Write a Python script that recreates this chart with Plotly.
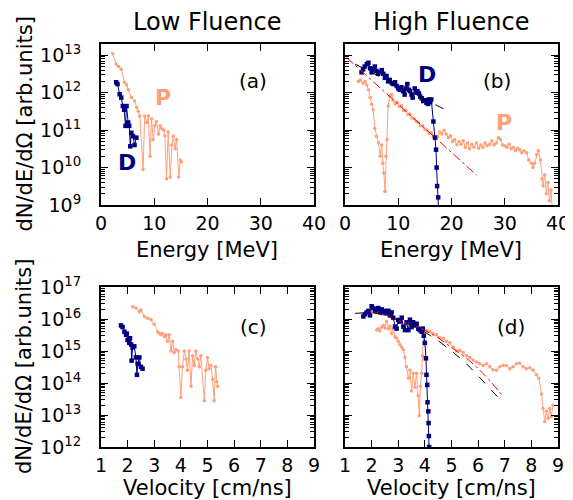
"""Proton and deuteron spectra, low and high fluence, vs energy and velocity."""

import plotly.graph_objects as go

FONT = "DejaVu Sans"
P_COLOR = "#FFA07A"
D_COLOR = "#000080"

# (a) low fluence, energy spectra
a_p_energy = [2.2, 2.85, 3.3, 3.8, 4.4, 4.8, 5.1, 5.7, 6.3, 6.7, 7.0, 7.3, 7.9,
              8.2, 8.6, 8.9, 9.2, 9.5, 9.8, 10.1, 10.4, 10.8, 11.1, 11.4, 11.8,
              12.0, 12.3, 12.6, 13.0, 13.3, 13.6, 13.9, 14.2, 14.6, 14.9, 15.1]
a_p_counts = [1.1e13, 5.8e12, 5.0e12, 4.2e12, 1.9e12, 1.6e12, 1.2e12, 7.4e11,
              6.0e11, 4.0e11, 3.2e11, 2.4e11, 8.9e9, 2.4e11, 1.6e11, 2.4e11,
              2.0e10, 2.0e11, 5.6e10, 1.3e11, 1.7e11, 7.9e10, 1.3e11, 1.1e11,
              1.0e11, 7.1e10, 5.0e9, 8.9e10, 5.6e9, 4.0e10, 6.9e10, 3.2e10,
              5.6e10, 5.6e9, 1.6e10, 1.4e10]
a_d_energy = [2.85, 3.1, 3.5, 3.8, 4.1, 4.35, 4.6, 4.8, 5.1, 5.3, 5.5, 5.7,
              6.0, 6.3, 6.65]
a_d_counts = [1.9e12, 1.7e12, 9.1e11, 7.4e11, 4.4e11, 3.5e11, 1.3e11, 4.4e11,
              1.6e11, 1.3e11, 3.7e10, 8.5e10, 6.9e10, 4.0e10, 6.3e10]

# (b) high fluence, energy spectra
b_p_energy = [2.5, 2.9, 3.4, 3.8, 4.1, 4.4, 4.7, 5.0, 5.3, 5.6, 5.9, 6.3, 6.6,
              6.9, 7.1, 7.3, 7.5, 7.7, 7.9, 8.1, 8.4, 8.75, 9.0, 9.4, 9.8,
              10.2, 10.6, 11.0, 11.4, 11.8, 12.2, 12.6, 13.0, 13.4, 13.8, 14.2,
              14.6, 15.0, 15.4, 15.8, 16.2, 16.6, 17.0, 17.4, 17.8, 18.2, 18.6,
              19.0, 19.4, 19.8, 20.2, 20.6, 21.0, 21.4, 21.8, 22.2, 22.6, 23.0,
              23.4, 23.8, 24.2, 24.7, 25.1, 25.5, 25.9, 26.3, 26.7, 27.2, 27.6,
              28.0, 28.4, 28.8, 29.2, 29.6, 30.0, 30.4, 30.8, 31.2, 31.6, 32.0,
              32.4, 32.8, 33.2, 33.6, 34.1, 34.5, 35.0, 35.3, 35.6, 36.0, 36.3,
              36.7, 37.0, 37.2, 37.5, 37.8, 38.1, 38.4, 38.7, 39.0]
b_p_counts = [2.0e12, 2.2e12, 1.8e12, 2.0e12, 1.6e12, 1.2e12, 7.4e11, 4.9e11,
              3.5e11, 1.1e11, 6.9e10, 4.6e10, 2.0e10, 4.0e10, 1.3e10, 7.2e9,
              2.3e9, 2.0e10, 5.6e10, 4.4e11, 8.1e11, 8.9e11, 6.3e11, 5.0e11,
              5.6e11, 4.3e11, 4.5e11, 3.3e11, 3.4e11, 2.6e11, 2.7e11, 2.1e11,
              2.0e11, 1.7e11, 1.6e11, 1.3e11, 1.3e11, 1.05e11, 1.0e11, 8.3e10,
              8.5e10, 6.9e10, 6.8e10, 6.6e10, 8.9e10, 7.9e10, 1.0e11, 7.9e10,
              6.3e10, 7.1e10, 5.0e10, 5.6e10, 4.0e10, 5.0e10, 4.2e10, 5.2e10,
              3.5e10, 4.5e10, 3.2e10, 4.2e10, 3.5e10, 4.5e10, 3.3e10, 4.0e10,
              3.5e10, 4.5e10, 3.8e10, 4.2e10, 5.2e10, 4.0e10, 4.6e10, 6.3e10,
              5.6e10, 4.0e10, 3.8e10, 3.5e10, 4.2e10, 3.2e10, 3.5e10, 2.8e10,
              3.3e10, 3.0e10, 2.5e10, 2.8e10, 2.5e10, 1.6e10, 1.3e10, 1.0e10,
              1.3e10, 2.2e10, 2.8e10, 1.6e10, 5.0e9, 3.2e9, 6.3e9, 2.0e9,
              4.0e9, 1.3e9, 2.5e9, 5.0e8]
b_d_energy = [3.1, 3.4, 3.7, 4.1, 4.4, 4.7, 5.0, 5.3, 5.6, 5.9, 6.2, 6.6, 6.9,
              7.2, 7.5, 7.8, 8.1, 8.4, 8.8, 9.1, 9.4, 9.7, 10.0, 10.3, 10.6,
              10.9, 11.2, 11.5, 11.7, 12.0, 12.2, 12.5, 12.7, 13.1, 13.4, 13.6,
              13.9, 14.1, 14.4, 14.7, 15.0, 15.3, 15.6, 15.8, 16.0, 16.2, 16.6,
              16.9, 17.1, 17.2, 17.3, 17.5, 17.7]
b_d_counts = [3.5e12, 4.2e12, 5.0e12, 5.8e12, 6.3e12, 4.5e12, 3.5e12, 4.2e12,
              5.0e12, 3.8e12, 3.2e12, 3.5e12, 4.0e12, 3.2e12, 2.5e12, 2.8e12,
              2.0e12, 2.2e12, 1.8e12, 1.7e12, 1.9e12, 1.5e12, 1.3e12, 1.2e12,
              1.4e12, 1.1e12, 8.9e11, 1.3e12, 1.7e12, 1.2e12, 1.1e12, 8.9e11,
              7.4e11, 1.3e12, 1.0e12, 1.1e12, 9.5e11, 7.9e11, 7.1e11, 6.0e11,
              6.3e11, 5.4e11, 5.0e11, 6.6e11, 5.6e11, 6.6e11, 1.7e11, 6.3e10,
              3.0e10, 1.0e10, 3.2e9, 1.6e9, 3.0e8]
b_pfit_energy = [0.3, 24.7]
b_pfit_counts = [8.7e12, 6.3e9]
b_dfit_energy = [1.9, 19.4]
b_dfit_counts = [5.8e12, 3.2e11]

# (c) low fluence, velocity spectra
c_p_velocity = [2.19, 2.31, 2.44, 2.5, 2.63, 2.75, 2.88, 3.0, 3.13, 3.19, 3.25,
                3.31, 3.38, 3.44, 3.5, 3.56, 3.63, 3.69, 3.75, 3.81, 3.9, 3.94,
                4.0, 4.06, 4.13, 4.19, 4.25, 4.31, 4.38, 4.44, 4.5, 4.56, 4.63,
                4.69, 4.75, 4.88, 4.94, 5.0, 5.06, 5.13, 5.19, 5.25, 5.3, 5.34,
                5.38]
c_p_counts = [2.4e16, 2.2e16, 1.7e16, 1.9e16, 1.2e16, 1.05e16, 9.5e15, 6.8e15,
              4.0e15, 3.5e15, 3.2e15, 3.5e15, 2.8e15, 3.2e15, 2.0e15, 3.2e15,
              1.0e15, 2.0e15, 8.9e14, 1.1e15, 1.0e15, 3.2e14, 3.5e13, 3.2e14,
              1.0e15, 5.6e14, 2.5e14, 1.0e15, 7.9e13, 7.1e14, 3.5e14, 1.0e15,
              5.6e14, 3.2e14, 7.1e14, 2.8e13, 2.5e14, 6.3e14, 2.8e14, 3.5e14,
              1.3e14, 2.8e13, 3.2e14, 1.1e14, 7.9e13]
c_d_velocity = [1.75, 1.81, 1.88, 1.94, 1.97, 2.0, 2.06, 2.09, 2.13, 2.15,
                2.19, 2.25, 2.31, 2.35, 2.38, 2.44, 2.5, 2.56]
c_d_counts = [6.3e15, 5.6e15, 4.0e15, 3.2e15, 3.5e15, 2.2e15, 1.8e15, 2.5e15,
              1.6e15, 5.0e14, 1.3e15, 1.4e15, 6.3e14, 1.8e14, 4.0e14, 6.3e14,
              3.2e14, 2.8e14]

# (d) high fluence, velocity spectra
d_p_velocity = [2.19, 2.25, 2.31, 2.38, 2.44, 2.5, 2.56, 2.63, 2.69, 2.75, 2.81,
                2.88, 2.94, 3.0, 3.06, 3.13, 3.19, 3.25, 3.31, 3.38, 3.44, 3.5,
                3.56, 3.63, 3.69, 3.75, 3.79, 3.83, 3.88, 3.91, 3.96, 4.0, 4.1,
                4.19, 4.3, 4.44, 4.56, 4.69, 4.81, 4.94, 5.06, 5.19, 5.31, 5.44,
                5.56, 5.69, 5.81, 5.94, 6.06, 6.19, 6.31, 6.44, 6.56, 6.69, 6.81,
                6.94, 7.06, 7.19, 7.31, 7.44, 7.56, 7.69, 7.81, 7.94, 8.06, 8.19,
                8.28, 8.38, 8.44, 8.5, 8.56, 8.63, 8.69, 8.75, 8.81]
d_p_counts = [4.5e15, 5.0e15, 4.2e15, 5.6e15, 6.3e15, 5.2e15, 8.3e15, 5.0e15,
              6.0e15, 3.5e15, 5.0e15, 2.8e15, 2.5e15, 2.0e15, 1.6e15, 1.3e15,
              1.1e15, 6.3e14, 3.2e14, 1.4e14, 2.5e14, 5.6e13, 2.0e14, 7.4e13,
              2.0e14, 4.0e13, 9.5e12, 7.9e13, 2.0e14, 7.1e14, 3.5e15, 4.5e15,
              4.2e15, 4.0e15, 3.5e15, 3.2e15, 2.6e15, 2.5e15, 2.0e15, 1.8e15,
              1.3e15, 1.0e15, 1.05e15, 8.9e14, 7.1e14, 6.3e14, 5.2e14, 4.5e14,
              4.0e14, 3.5e14, 4.0e14, 3.2e14, 2.6e14, 2.5e14, 3.2e14, 3.5e14,
              3.5e14, 2.8e14, 3.2e14, 4.0e14, 4.2e14, 3.2e14, 2.8e14, 3.0e14,
              2.5e14, 1.8e14, 1.4e14, 4.5e13, 1.6e13, 6.3e12, 1.3e13, 7.9e12,
              1.6e13, 8.9e12, 2.0e13]
d_d_velocity = [1.69, 1.75, 1.81, 1.88, 1.94, 2.0, 2.06, 2.13, 2.19, 2.25, 2.31,
                2.38, 2.44, 2.5, 2.56, 2.63, 2.69, 2.75, 2.81, 2.88, 2.94, 3.0,
                3.06, 3.13, 3.19, 3.25, 3.31, 3.38, 3.44, 3.5, 3.56, 3.63, 3.69,
                3.75, 3.81, 3.88, 3.92, 3.96, 4.0, 4.04, 4.06, 4.09, 4.1, 4.13,
                4.14, 4.15, 4.16, 4.18]
d_d_counts = [1.2e16, 1.4e16, 1.6e16, 1.8e16, 1.3e16, 2.5e16, 2.2e16, 1.8e16,
              2.0e16, 2.2e16, 1.7e16, 2.0e16, 1.6e16, 1.8e16, 1.5e16, 1.8e16,
              1.3e16, 1.6e16, 1.1e16, 5.8e15, 5.0e15, 9.3e15, 8.3e15, 1.1e16,
              5.8e15, 4.5e15, 7.9e15, 4.5e15, 9.5e15, 5.6e15, 7.9e15, 6.3e15,
              7.1e15, 5.0e15, 4.5e15, 4.0e15, 5.0e15, 3.0e15, 1.8e15, 5.9e14,
              1.8e14, 8.7e13, 2.5e13, 1.3e13, 5.6e12, 2.2e12, 1.0e12, 3.2e11]
d_pfit_velocity = [1.94, 2.5, 2.94, 3.5, 3.94, 4.5, 4.94, 5.5, 5.94, 6.4, 6.88]
d_pfit_counts = [1.7e16, 1.3e16, 9.3e15, 6.6e15, 4.7e15, 2.6e15, 1.4e15,
                 6.6e14, 3.2e14, 1.3e14, 4.4e13]
d_dfit_velocity = [1.38, 2.0, 2.5, 3.0, 3.5, 3.94, 4.5, 4.94, 5.5, 5.94, 6.4,
                   6.88]
d_dfit_counts = [1.5e16, 1.6e16, 1.3e16, 9.5e15, 6.6e15, 4.2e15, 2.1e15,
                 1.1e15, 4.5e14, 1.9e14, 7.4e13, 2.7e13]

# decade exponents labelled on the y axes
energy_decades = [9, 10, 11, 12, 13]
velocity_decades = [12, 13, 14, 15, 16, 17]

# the page body adds an 8px margin, so the figure is shrunk and everything
# is placed in window pixels minus that offset
OFFSET = 8
WIDTH = 573 - OFFSET
HEIGHT = 500 - OFFSET


def px_x(x):
    return (x - OFFSET) / WIDTH


def px_y(y):
    return 1 - (y - OFFSET) / HEIGHT


def data_trace(x, y, color, symbol, size, axis):
    return go.Scatter(x=x, y=y, mode="lines+markers", xaxis="x" + axis,
                      yaxis="y" + axis,
                      line=dict(color=color, width=1),
                      marker=dict(color=color, symbol=symbol, size=size,
                                  line=dict(width=0)))


def fit_trace(x, y, color, dash, axis):
    return go.Scatter(x=x, y=y, mode="lines", xaxis="x" + axis,
                      yaxis="y" + axis,
                      line=dict(color=color, width=1, dash=dash))


def log_axis(decades, top_exp, labels):
    # majors at every decade, minors at 2..9 of each decade
    minors = [m * 10.0 ** e for e in decades for m in range(2, 10)]
    return dict(frame, type="log", range=[decades[0], top_exp],
                tickmode="array", tickvals=[10.0 ** e for e in decades],
                ticktext=["10<sup>%d</sup>" % e for e in decades],
                showticklabels=labels, ticklabelstandoff=14,
                minor=dict(tickmode="array", tickvals=minors, ticks="inside",
                           ticklen=4, tickwidth=1, tickcolor="black",
                           showgrid=False))


fig = go.Figure()
fig.add_trace(data_trace(a_p_energy, a_p_counts, P_COLOR, "circle", 3.5, ""))
fig.add_trace(data_trace(a_d_energy, a_d_counts, D_COLOR, "square", 4.5, ""))
fig.add_trace(data_trace(b_p_energy, b_p_counts, P_COLOR, "circle", 3.5, "2"))
fig.add_trace(data_trace(b_d_energy, b_d_counts, D_COLOR, "square", 4.5, "2"))
fig.add_trace(fit_trace(b_pfit_energy, b_pfit_counts, "red", "dashdot", "2"))
fig.add_trace(fit_trace(b_dfit_energy, b_dfit_counts, "black", "dash", "2"))
fig.add_trace(data_trace(c_p_velocity, c_p_counts, P_COLOR, "circle", 3.5, "3"))
fig.add_trace(data_trace(c_d_velocity, c_d_counts, D_COLOR, "square", 4.5, "3"))
fig.add_trace(data_trace(d_p_velocity, d_p_counts, P_COLOR, "circle", 3.5, "4"))
fig.add_trace(data_trace(d_d_velocity, d_d_counts, D_COLOR, "square", 4.5, "4"))
fig.add_trace(fit_trace(d_pfit_velocity, d_pfit_counts, "red", "dashdot", "4"))
fig.add_trace(fit_trace(d_dfit_velocity, d_dfit_counts, "black", "dash", "4"))

tick_font = dict(family=FONT, size=19, color="black")
frame = dict(showline=True, linecolor="black", linewidth=2, mirror="ticks",
             ticks="inside", ticklen=7, tickwidth=1.2, tickcolor="black",
             showgrid=False, zeroline=False, automargin=False,
             tickfont=tick_font)

left = [px_x(101), px_x(314)]
right = [px_x(345), px_x(558)]
top = [px_y(205), px_y(44)]
bottom = [px_y(447), px_y(287)]

fig.update_layout(
    template="none",
    width=WIDTH, height=HEIGHT,
    margin=dict(l=0, r=0, t=0, b=0),
    paper_bgcolor="white", plot_bgcolor="white",
    showlegend=False,
    font=dict(family=FONT, color="black"),
    xaxis=dict(frame, domain=left, anchor="y", range=[0, 40], dtick=10),
    yaxis=dict(log_axis(energy_decades, 13.301, True), domain=top,
               anchor="x"),
    xaxis2=dict(frame, domain=right, anchor="y2", range=[0, 40], dtick=10),
    yaxis2=dict(log_axis(energy_decades, 13.301, False), domain=top,
                anchor="x2"),
    xaxis3=dict(frame, domain=left, anchor="y3", range=[1, 9], dtick=1),
    yaxis3=dict(log_axis(velocity_decades, 17, True), domain=bottom,
                anchor="x3"),
    xaxis4=dict(frame, domain=right, anchor="y4", range=[1, 9], dtick=1),
    yaxis4=dict(log_axis(velocity_decades, 17, False), domain=bottom,
                anchor="x4"),
)

title_font = dict(family=FONT, size=24, color="black")
label_font = dict(family=FONT, size=21, color="black")
panel_font = dict(family=FONT, size=20, color="black")
annotations = [
    dict(text="Low Fluence", x=px_x(207), y=px_y(22), font=title_font),
    dict(text="High Fluence", x=px_x(451), y=px_y(22), font=title_font),
    dict(text="Energy [MeV]", x=px_x(207), y=px_y(250), font=label_font),
    dict(text="Energy [MeV]", x=px_x(451), y=px_y(250), font=label_font),
    dict(text="Velocity [cm/ns]", x=px_x(207), y=px_y(488), font=label_font),
    dict(text="Velocity [cm/ns]", x=px_x(451), y=px_y(488), font=label_font),
    dict(text="dN/dE/dΩ [arb.units]", x=px_x(24), y=sum(top) / 2,
         textangle=-90, font=label_font),
    dict(text="dN/dE/dΩ [arb.units]", x=px_x(24), y=sum(bottom) / 2,
         textangle=-90, font=label_font),
]
for ann in annotations:
    ann.update(xref="paper", yref="paper", showarrow=False, borderpad=0,
               xanchor="center", yanchor="middle")
    fig.add_annotation(**ann)

for name, axis, px_, py_ in [("(a)", "", 0.79, 0.86), ("(b)", "2", 0.79, 0.86),
                            ("(c)", "3", 0.79, 0.84), ("(d)", "4", 0.856, 0.84)]:
    fig.add_annotation(text=name, xref="x" + axis + " domain",
                       yref="y" + axis + " domain", x=px_, y=py_,
                       showarrow=False, font=panel_font)

species_labels = [
    ("P", "", 11.7, 11.87, P_COLOR), ("D", "", 4.9, 10.13, D_COLOR),
    ("D", "2", 15.4, 12.49, D_COLOR), ("P", "2", 29.8, 11.2, P_COLOR),
]
for name, axis, ex, ey, color in species_labels:
    fig.add_annotation(text="<b>" + name + "</b>", xref="x" + axis,
                       yref="y" + axis, x=ex, y=ey, showarrow=False,
                       font=dict(family=FONT, size=22, color=color))

fig.write_html("out.html")
